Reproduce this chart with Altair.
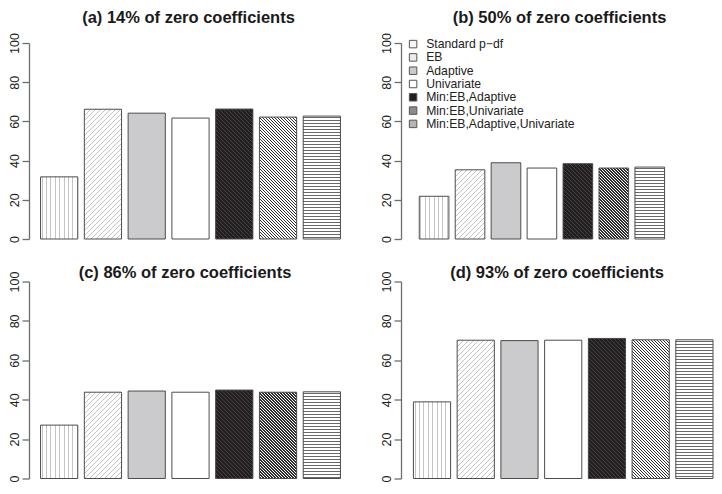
import altair as alt
import pandas as pd

# ---------------- data ----------------
methods = ["Standard p\u2212df", "EB", "Adaptive", "Univariate",
           "Min:EB,Adaptive", "Min:EB,Univariate", "Min:EB,Adaptive,Univariate"]
vals_a = [31.7, 66.2, 64.2, 61.7, 66.3, 62.2, 62.7]
vals_b = [21.8, 35.3, 38.9, 36.2, 38.4, 36.2, 36.7]
vals_c = [27.1, 43.8, 44.4, 43.8, 44.9, 43.8, 44.0]
vals_d = [38.9, 70.2, 70.0, 70.2, 71.1, 70.4, 70.4]
titles = ["(a) 14% of zero coefficients", "(b) 50% of zero coefficients",
          "(c) 86% of zero coefficients", "(d) 93% of zero coefficients"]
y_ticks = [0, 20, 40, 60, 80, 100]

# ---------------- styles ----------------
legend_fills = ["#f6f6f6", "#ececec", "#cbcbcd", "#ffffff", "#231f20", "#8c8c8c", "#b4b4b4"]
# kind, spacing (px), line width (px), line colour, background, gradient length (px)
patterns = {
    methods[0]: ("v", 4.4, 1.0, "#c4c4c4", "#ffffff", None),
    methods[1]: ("/", 5.0, 1.0, "#c2c2c2", "#ffffff", 256),
    methods[4]: ("\\", 4.0, 1.0, "#454243", "#231f20", 256),
    methods[5]: ("\\", 3.0, 1.5, "#2e2e2e", "#ffffff", 192),
    methods[6]: ("h", 3.0, 1.0, "#6a6a6a", "#ffffff", 256),
}
FONT = "Liberation Sans"


def make_grad(kind, w, h, period, lw, fg, bg, Lp):
    r = h / w
    if Lp is None:
        Lp = w if kind == "v" else h
    if kind == "v":
        x1, y1, x2, y2 = 0, 0, Lp / w, 0
    elif kind == "h":
        x1, y1, x2, y2 = 0, 0, 0, Lp / h
    elif kind == "/":
        k = Lp / (w * (1 + r * r))
        x1, y1, x2, y2 = 0, 0, k, k * r
    else:
        k = Lp / (w * (1 + r * r))
        x1, y1, x2, y2 = 0, 1, k, 1 - k * r
    n = Lp / period
    f = lw / period
    stops = [{"offset": 0, "color": bg}]
    i = 0
    while True:
        a = (i + 0.25) / n
        b = (i + 0.25 + f) / n
        if a >= 1:
            break
        b = min(b, 1)
        stops += [{"offset": round(a, 6), "color": bg}, {"offset": round(a, 6), "color": fg},
                  {"offset": round(b, 6), "color": fg}, {"offset": round(b, 6), "color": bg}]
        i += 1
    stops.append({"offset": 1, "color": bg})
    return {"gradient": "linear", "x1": x1, "y1": y1, "x2": x2, "y2": y2, "stops": stops}


def panel(vals, title, width, height, pi, po, align, title_offset, show_legend, tdx=0):
    df = pd.DataFrame({"method": methods, "value": vals})
    step = width / (len(methods) - pi + 2 * po)
    bw = step * (1 - pi)
    xenc = alt.X("method:N", sort=methods, axis=None,
                 scale=alt.Scale(domain=methods, paddingInner=pi, paddingOuter=po,
                                 align=align, round=False))
    yenc = alt.Y("value:Q", scale=alt.Scale(domain=[0, 100], nice=False, zero=True),
                 axis=alt.Axis(values=y_ticks, title=None, grid=False, labelAngle=-90,
                               labelAlign="center", labelBaseline="bottom",
                               tickSize=7, labelPadding=1))
    if show_legend:
        leg = alt.Legend(title=None, orient="none", legendX=6, legendY=-5,
                         symbolType="square", symbolSize=56, symbolStrokeColor="#555555",
                         symbolStrokeWidth=1, labelFont=FONT, labelFontSize=12.2,
                         labelColor="#222222", labelOffset=7, rowPadding=0.3, padding=0)
    else:
        leg = None
    base = alt.Chart(df).mark_bar().encode(
        x=xenc, y=yenc,
        fill=alt.Fill("method:N", sort=methods,
                      scale=alt.Scale(domain=methods, range=legend_fills), legend=leg))
    layers = [base]
    for m, (kind, period, lw, fg, bg, Lp) in patterns.items():
        v = vals[methods.index(m)]
        h = v / 100 * height
        grad = make_grad(kind, bw, h, period, lw, fg, bg, Lp)
        layers.append(alt.Chart(df).transform_filter(alt.datum.method == m)
                      .mark_bar(fill=grad).encode(x=xenc, y=yenc))
    layers.append(alt.Chart(df).mark_bar(fillOpacity=0, stroke="#4d4d4d", strokeWidth=1)
                  .encode(x=xenc, y=yenc))
    return alt.layer(*layers).properties(
        width=width, height=height,
        title=alt.TitleParams(title, offset=title_offset, frame="group", anchor="middle", dx=tdx))


pa = panel(vals_a, titles[0], 323, 196, 0.15, 0.264, 0.5, 6, False, tdx=-2)
pb = panel(vals_b, titles[1], 312, 196, 0.176, 0.928, 0.274, 6, True, tdx=2.5)
pc = panel(vals_c, titles[2], 323, 197, 0.15, 0.264, 0.5, -10, False, tdx=-5.5)
pd_ = panel(vals_d, titles[3], 312, 197, 0.15, 0.142, 1.0, -10, False)

row1 = alt.hconcat(pa, pb, spacing=28).resolve_scale(fill="independent").resolve_legend(fill="independent")
row2 = alt.hconcat(pc, pd_, spacing=28).resolve_scale(fill="independent").resolve_legend(fill="independent")

chart = (alt.vconcat(row1, row2, spacing=21.5)
         .resolve_scale(fill="independent").resolve_legend(fill="independent")
         .properties(padding={"left": 0, "top": 2, "right": 0, "bottom": 0})
         .configure_view(strokeWidth=0)
         .configure_axis(domainColor="#6e6e6e", tickColor="#6e6e6e", domainWidth=1.3,
                         tickWidth=1.3, labelFont=FONT, labelFontSize=12.5, labelColor="#222222")
         .configure_title(font=FONT, fontSize=16.5, fontWeight="bold", color="#1a1a1a"))

chart.save("out.html", embed_options={"renderer": "svg", "actions": False})
